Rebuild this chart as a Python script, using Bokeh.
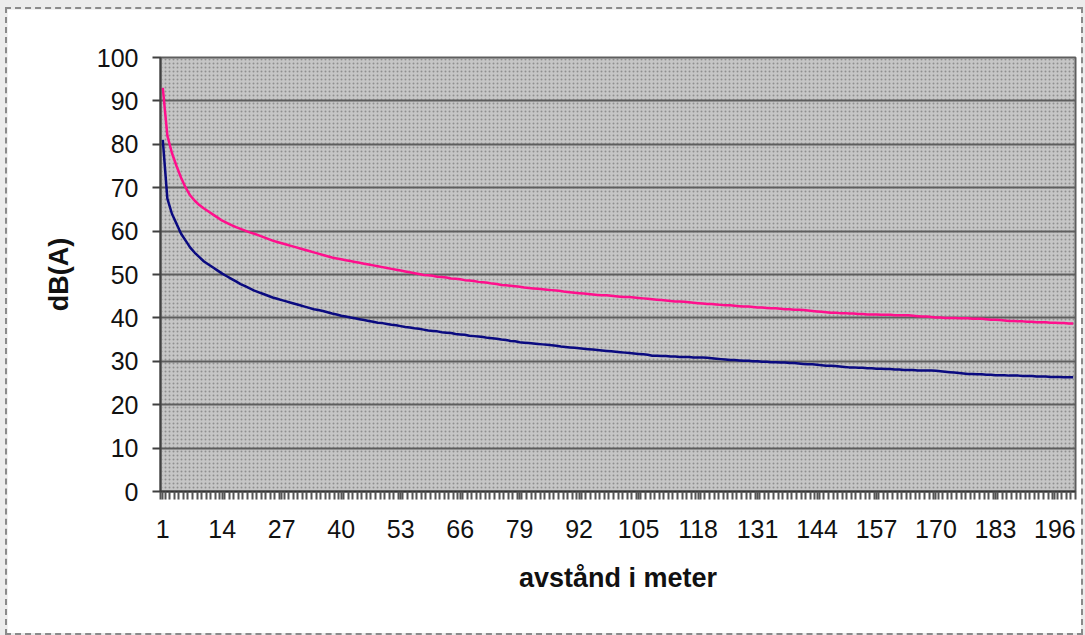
from bokeh.plotting import figure
from bokeh.models import Range1d, FixedTicker, BoxAnnotation
from bokeh.layouts import column
from bokeh.embed import file_html
from bokeh.resources import INLINE

# ---- data ----
distance_m = list(range(1, 201))

level_pink = [
    93.0, 82.0, 78.0, 75.0, 72.3, 70.0, 68.2, 67.0, 66.0, 65.2,
    64.5, 63.8, 63.1, 62.4, 61.9, 61.4, 60.9, 60.5, 60.1, 59.7,
    59.4, 59.0, 58.6, 58.2, 57.8, 57.5, 57.2, 56.9, 56.6, 56.3,
    56.0, 55.7, 55.4, 55.1, 54.8, 54.5, 54.2, 53.9, 53.7, 53.5,
    53.3, 53.1, 52.9, 52.7, 52.5, 52.3, 52.1, 51.9, 51.7, 51.5,
    51.3, 51.1, 50.9, 50.7, 50.5, 50.3, 50.1, 49.9, 49.8, 49.7,
    49.5, 49.4, 49.3, 49.1, 49.0, 48.9, 48.7, 48.6, 48.5, 48.3,
    48.2, 48.1, 47.9, 47.8, 47.6, 47.5, 47.4, 47.3, 47.2, 47.0,
    46.9, 46.8, 46.7, 46.6, 46.5, 46.4, 46.3, 46.2, 46.0, 45.9,
    45.8, 45.7, 45.6, 45.5, 45.4, 45.3, 45.2, 45.2, 45.1, 45.0,
    44.9, 44.8, 44.8, 44.7, 44.6, 44.5, 44.4, 44.3, 44.2, 44.1,
    44.0, 43.9, 43.8, 43.8, 43.7, 43.6, 43.5, 43.4, 43.3, 43.2,
    43.2, 43.1, 43.0, 42.9, 42.9, 42.8, 42.7, 42.6, 42.6, 42.5,
    42.4, 42.4, 42.3, 42.2, 42.2, 42.1, 42.0, 42.0, 41.9, 41.9,
    41.8, 41.7, 41.6, 41.5, 41.4, 41.3, 41.2, 41.2, 41.1, 41.1,
    41.0, 41.0, 40.9, 40.9, 40.8, 40.8, 40.8, 40.7, 40.7, 40.7,
    40.6, 40.6, 40.6, 40.6, 40.5, 40.4, 40.3, 40.3, 40.2, 40.1,
    40.1, 40.0, 40.0, 40.0, 39.9, 39.9, 39.9, 39.8, 39.8, 39.8,
    39.7, 39.6, 39.6, 39.5, 39.4, 39.3, 39.3, 39.2, 39.2, 39.1,
    39.1, 39.0, 39.0, 39.0, 38.9, 38.9, 38.8, 38.8, 38.7, 38.7,
]

level_blue = [
    81.0, 67.5, 64.0, 61.7, 59.4, 57.8, 56.2, 55.0, 54.0, 53.0,
    52.3, 51.6, 50.9, 50.2, 49.6, 49.0, 48.4, 47.8, 47.3, 46.8,
    46.3, 45.9, 45.5, 45.1, 44.7, 44.4, 44.1, 43.8, 43.5, 43.2,
    42.9, 42.6, 42.3, 42.0, 41.8, 41.6, 41.3, 41.0, 40.8, 40.5,
    40.3, 40.1, 39.9, 39.7, 39.5, 39.3, 39.1, 38.9, 38.8, 38.6,
    38.4, 38.3, 38.1, 37.9, 37.8, 37.6, 37.5, 37.3, 37.1, 37.0,
    36.9, 36.7, 36.6, 36.5, 36.3, 36.2, 36.1, 35.9, 35.8, 35.7,
    35.6, 35.4, 35.3, 35.2, 35.0, 34.9, 34.7, 34.6, 34.4, 34.3,
    34.2, 34.1, 34.0, 33.9, 33.8, 33.7, 33.6, 33.4, 33.3, 33.2,
    33.1, 33.0, 32.9, 32.8, 32.7, 32.6, 32.5, 32.4, 32.3, 32.2,
    32.1, 32.0, 31.9, 31.8, 31.7, 31.6, 31.5, 31.3, 31.3, 31.2,
    31.2, 31.1, 31.1, 31.0, 31.0, 31.0, 30.9, 30.9, 30.9, 30.8,
    30.7, 30.6, 30.5, 30.4, 30.3, 30.3, 30.2, 30.1, 30.1, 30.0,
    30.0, 29.9, 29.9, 29.8, 29.8, 29.7, 29.7, 29.6, 29.6, 29.5,
    29.4, 29.3, 29.3, 29.2, 29.1, 29.0, 29.0, 28.9, 28.8, 28.7,
    28.6, 28.6, 28.5, 28.5, 28.4, 28.4, 28.3, 28.3, 28.2, 28.2,
    28.1, 28.1, 28.0, 28.0, 28.0, 27.9, 27.9, 27.9, 27.9, 27.8,
    27.7, 27.6, 27.5, 27.4, 27.3, 27.2, 27.1, 27.1, 27.0, 27.0,
    26.9, 26.9, 26.8, 26.8, 26.8, 26.7, 26.7, 26.7, 26.6, 26.6,
    26.6, 26.5, 26.5, 26.5, 26.4, 26.4, 26.4, 26.3, 26.3, 26.3,
]

x_tick_values = distance_m[::13]
x_tick_labels = [str(d) for d in x_tick_values]
y_tick_values = [0, 10, 20, 30, 40, 50, 60, 70, 80, 90, 100]
x_title = "avstånd i meter"
y_title = "dB(A)"

FONT = "Liberation Sans"

p = figure(
    width=1074, height=624,
    output_backend="svg", toolbar_location=None,
    x_range=Range1d(distance_m[0] - 0.5, distance_m[-1] + 0.5),
    y_range=Range1d(y_tick_values[0], y_tick_values[-1]),
    min_border_left=153, min_border_right=6,
    min_border_top=48, min_border_bottom=142,
)
p.margin = (9, 4, 2, 7)
p.styles = {"outline": "2px dashed #8a8a8a"}
p.border_fill_color = "white"
p.background_fill_color = "#c6c6c6"
p.outline_line_color = "#5e5e5e"
p.outline_line_width = 2

# dotted texture of the plot area
texture = BoxAnnotation(fill_alpha=0, line_alpha=0,
                        hatch_pattern="dot", hatch_color="#8f8f8f",
                        hatch_scale=4, hatch_weight=1.6, level="image")
p.add_layout(texture)

# grid
p.xgrid.grid_line_color = None
p.ygrid.grid_line_color = "#5e5e5e"
p.ygrid.grid_line_width = 2

# y axis
p.yaxis.ticker = FixedTicker(ticks=y_tick_values)
p.yaxis.axis_line_color = "#404040"
p.yaxis.axis_line_width = 2
p.yaxis.major_tick_line_color = "#404040"
p.yaxis.major_tick_line_width = 2
p.yaxis.major_tick_out = 8
p.yaxis.major_tick_in = 0
p.yaxis.minor_tick_line_color = None
p.yaxis.major_label_text_font = FONT
p.yaxis.major_label_text_font_size = "25px"
p.yaxis.major_label_text_color = "#111111"
p.yaxis.major_label_standoff = 14
p.yaxis.axis_label = y_title
p.yaxis.axis_label_text_font = FONT
p.yaxis.axis_label_text_font_size = "27px"
p.yaxis.axis_label_text_font_style = "bold"
p.yaxis.axis_label_text_color = "#111111"
p.yaxis.axis_label_standoff = 20

# x axis
x_minor = [v + 0.5 for v in [distance_m[0] - 1] + distance_m]
p.xaxis.ticker = FixedTicker(ticks=x_tick_values, minor_ticks=x_minor)
p.xaxis.major_label_overrides = {v: s for v, s in zip(x_tick_values, x_tick_labels)}
p.xaxis.axis_line_color = "#303030"
p.xaxis.axis_line_width = 2
p.xaxis.major_tick_line_color = "#555555"
p.xaxis.major_tick_line_width = 2
p.xaxis.major_tick_out = 8
p.xaxis.major_tick_in = 0
p.xaxis.minor_tick_line_color = "#555555"
p.xaxis.minor_tick_line_width = 2
p.xaxis.minor_tick_out = 8
p.xaxis.minor_tick_in = 0
p.xaxis.major_label_text_font = FONT
p.xaxis.major_label_text_font_size = "25px"
p.xaxis.major_label_text_color = "#111111"
p.xaxis.major_label_standoff = 20
p.xaxis.axis_label = x_title
p.xaxis.axis_label_text_font = FONT
p.xaxis.axis_label_text_font_size = "27px"
p.xaxis.axis_label_text_font_style = "bold"
p.xaxis.axis_label_text_color = "#111111"
p.xaxis.axis_label_standoff = 22

# series
p.line(distance_m, level_pink, line_color="#ff0f8c", line_width=2.5)
p.line(distance_m, level_blue, line_color="#0a0a80", line_width=2.5)

root = column(p, styles={"background-color": "#ececec"})
open("out.html", "w").write(file_html(root, INLINE))
